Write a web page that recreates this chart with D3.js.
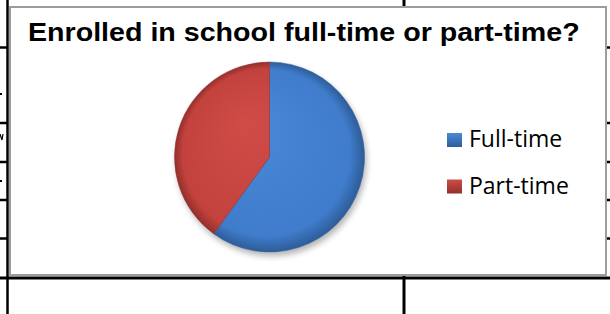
<!DOCTYPE html>
<html>
<head>
<meta charset="utf-8">
<script src="https://cdn.jsdelivr.net/npm/d3@7"></script>
<style>
  html, body { margin: 0; padding: 0; background: #fff; }
  svg { display: block; }
</style>
</head>
<body>
<svg id="chart" width="610" height="314"></svg>
<script>
// Data
const categories = ["Full-time", "Part-time"];
const values = [60, 40];
const colors = ["#3f7ccb", "#c4423e"];
const edgeColors = ["#2e5c98", "#932f2c"];
const lightColors = ["#4a8ad8", "#cf4c47"];
const title = "Enrolled in school full-time or part-time?";

const svg = d3.select("#chart");
const W = +svg.attr("width"), H = +svg.attr("height");
const defs = svg.append("defs");

// background table rules (the chart sits on a document table)
const rules = svg.append("g").attr("stroke", "#000");
rules.append("line").attr("x1", 7.5).attr("x2", 7.5).attr("y1", 0).attr("y2", H).attr("stroke-width", 2.5);
rules.append("line").attr("x1", 404).attr("x2", 404).attr("y1", 0).attr("y2", 8).attr("stroke-width", 3);
rules.append("line").attr("x1", 404).attr("x2", 404).attr("y1", 276).attr("y2", H).attr("stroke-width", 3);
rules.append("line").attr("x1", 0).attr("x2", W).attr("y1", 278).attr("y2", 278).attr("stroke-width", 3);
[47.5, 123, 162, 200, 238.5].forEach(y => {
  rules.append("line").attr("x1", 0).attr("x2", 8).attr("y1", y).attr("y2", y).attr("stroke-width", 2.5);
  rules.append("line").attr("x1", 606).attr("x2", W).attr("y1", y).attr("y2", y).attr("stroke-width", 2.5);
});
// clipped letters peeking from the table's left column
svg.append("rect").attr("x", 0).attr("y", 93).attr("width", 2).attr("height", 2).attr("fill", "#000");
svg.append("rect").attr("x", 0).attr("y", 180).attr("width", 2).attr("height", 2).attr("fill", "#000");
svg.append("path").attr("d", "M0,134 L2,140 L3,134").attr("fill", "none").attr("stroke", "#000").attr("stroke-width", 1.2);

// chart area box
svg.append("rect")
  .attr("x", 10).attr("y", 7).attr("width", 596).attr("height", 268)
  .attr("fill", "#fff").attr("stroke", "#9c9c9c").attr("stroke-width", 2);

// title, stretched horizontally to the reference width
const titleText = svg.append("text")
  .attr("x", 0).attr("y", 0)
  .attr("font-family", "'Liberation Sans', Arial, sans-serif")
  .attr("font-weight", "bold")
  .attr("font-size", 25)
  .attr("fill", "#000")
  .text(title);
const tw = titleText.node().getComputedTextLength();
titleText.attr("transform", `translate(28,41) scale(${552 / tw},1)`);

// pie
const cx = 269.5, cy = 157, r = 95;
const data = categories.map((c, i) => ({ name: c, value: values[i], i }));
const pie = d3.pie().value(d => d.value).sort(null);
const arc = d3.arc().innerRadius(0).outerRadius(r);

// shadow
const blur = defs.append("filter").attr("id", "shadow").attr("x", "-20%").attr("y", "-20%").attr("width", "140%").attr("height", "140%");
blur.append("feGaussianBlur").attr("stdDeviation", 3);

// gradients live in the pie group's local space (centre at 0,0)
data.forEach((d, i) => {
  const g = defs.append("radialGradient")
    .attr("id", "grad" + i)
    .attr("gradientUnits", "userSpaceOnUse")
    .attr("cx", 0).attr("cy", 0).attr("r", r)
    .attr("fx", -25).attr("fy", -35);
  g.append("stop").attr("offset", "0%").attr("stop-color", lightColors[i]);
  g.append("stop").attr("offset", "88%").attr("stop-color", colors[i]);
  g.append("stop").attr("offset", "100%").attr("stop-color", edgeColors[i]);

  const lg = defs.append("linearGradient")
    .attr("id", "lgrad" + i).attr("x1", 0).attr("y1", 0).attr("x2", 0).attr("y2", 1);
  lg.append("stop").attr("offset", "0%").attr("stop-color", lightColors[i]);
  lg.append("stop").attr("offset", "100%").attr("stop-color", edgeColors[i]);
});

const pg = svg.append("g").attr("transform", `translate(${cx},${cy})`);
pg.append("circle").attr("cx", 2).attr("cy", 4).attr("r", r)
  .attr("fill", "#000").attr("opacity", 0.3).attr("filter", "url(#shadow)");

pg.selectAll("path.slice")
  .data(pie(data))
  .join("path")
    .attr("class", "slice")
    .attr("d", arc)
    .attr("fill", d => `url(#grad${d.data.i})`)
    .attr("stroke", d => edgeColors[d.data.i])
    .attr("stroke-width", 0.5);

// legend
const legend = svg.append("g");
const rowY = [140, 186.5];
data.forEach((d, i) => {
  legend.append("rect")
    .attr("x", 447).attr("y", rowY[i] - 7).attr("width", 15).attr("height", 14)
    .attr("fill", `url(#lgrad${i})`);
  legend.append("text")
    .attr("x", 469).attr("y", rowY[i] + 7)
    .attr("font-family", "'Open Sans', 'Noto Sans', sans-serif")
    .attr("font-size", 23)
    .attr("fill", "#000")
    .text(d.name);
});
</script>
</body>
</html>
